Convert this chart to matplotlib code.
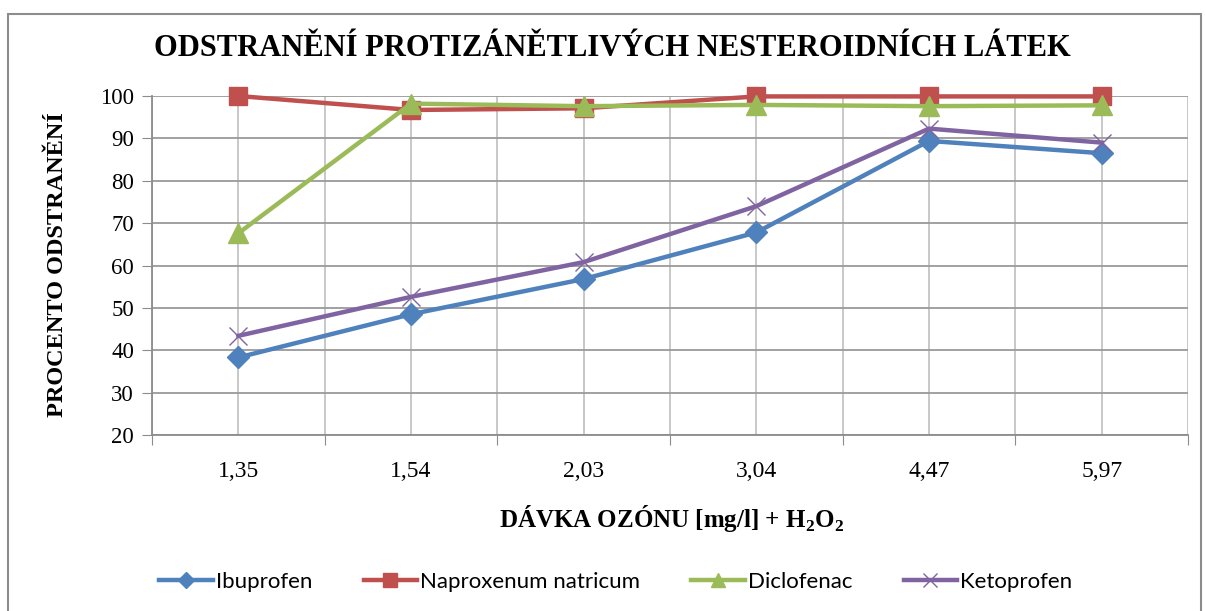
import matplotlib
matplotlib.use("Agg")
import matplotlib.pyplot as plt
from matplotlib.patches import Rectangle

categories = ["1,35", "1,54", "2,03", "3,04", "4,47", "5,97"]
ibuprofen = [38.3, 48.5, 56.8, 67.8, 89.4, 86.5]
naproxen = [100.0, 96.7, 97.1, 99.9, 99.9, 99.9]
diclofenac = [67.6, 98.2, 97.6, 97.9, 97.6, 97.8]
ketoprofen = [43.4, 52.6, 60.8, 74.0, 92.3, 89.0]
series_names = ["Ibuprofen", "Naproxenum natricum", "Diclofenac", "Ketoprofen"]
yticks = [20, 30, 40, 50, 60, 70, 80, 90, 100]

W, H = 1205, 611
fig = plt.figure(figsize=(W / 100, H / 100), dpi=100)
fig.patch.set_facecolor("white")

# outer chart border
fig.patches.append(Rectangle((8 / W, -0.05), (1201 - 8) / W, (H - 14) / H + 0.05,
                             transform=fig.transFigure, fill=False,
                             edgecolor="#8c8c8c", linewidth=1.5))

ax = fig.add_axes([152 / W, 1 - 435 / H, (1188 - 152) / W, (435 - 96) / H])
x = list(range(len(categories)))

serif = "Liberation Serif"
styles = [
    (ibuprofen, "#4F81BD", "D", 11, dict()),
    (naproxen, "#C0504D", "s", 13, dict()),
    (diclofenac, "#9BBB59", "^", 14, dict()),
    (ketoprofen, "#8064A2", "x", 13, dict(markeredgewidth=1.0)),
]
lines = []
for (vals, c, m, ms, kw), name in zip(styles, series_names):
    kw2 = dict(markeredgecolor=c, markerfacecolor=c)
    kw2.update(kw)
    ln, = ax.plot(x, vals, color=c, linewidth=3.2, marker=m, markersize=ms,
                  label=name, zorder=3, clip_on=False, **kw2)
    lines.append(ln)

ax.set_xlim(-0.5, len(categories) - 0.5)
ax.set_ylim(20, 100)
ax.set_yticks(yticks)
ax.set_yticklabels([str(v) for v in yticks], fontfamily=serif, fontsize=16.5)

ax.set_xticks([i - 0.5 for i in range(len(categories) + 1)])
ax.set_xticklabels([])
ax.set_xticks(x, minor=True)
ax.set_xticklabels(categories, minor=True, fontfamily=serif, fontsize=17)
ax.tick_params(axis="x", which="minor", length=0, pad=19)
ax.tick_params(axis="x", which="major", length=7, color="#8c8c8c", direction="out")
ax.tick_params(axis="y", length=7, color="#8c8c8c", direction="out", pad=6)

ax.grid(axis="y", which="major", color="#9a9a9a", linewidth=1.3, zorder=0)
ax.grid(axis="x", which="both", color="#c4c4c4", linewidth=1.3, zorder=0)
ax.set_axisbelow(True)
for s in ["top", "right"]:
    ax.spines[s].set_visible(False)
for s in ["left", "bottom"]:
    ax.spines[s].set_color("#8c8c8c")
    ax.spines[s].set_linewidth(1.3)

fig.text(612 / W, 1 - 48 / H, "ODSTRANĚNÍ PROTIZÁNĚTLIVÝCH NESTEROIDNÍCH LÁTEK",
         ha="center", va="center", fontfamily=serif, fontweight="bold", fontsize=22)
fig.text(58 / W, 1 - 265 / H, "PROCENTO ODSTRANĚNÍ", rotation=90,
         ha="center", va="center", fontfamily=serif, fontweight="bold", fontsize=17.5)
fig.text(672 / W, 1 - 519 / H, r"DÁVKA OZÓNU [mg/l] + H$_\mathregular{2}$O$_\mathregular{2}$",
         ha="center", va="center", fontfamily=serif, fontweight="bold", fontsize=18)

leg = fig.legend(handles=lines, loc="center", bbox_to_anchor=(616 / W, 1 - 582 / H),
                 ncol=4, frameon=False, handlelength=2.4, columnspacing=2.3,
                 handletextpad=0.15, markerscale=0.75,
                 prop={"family": ["Lato", "DejaVu Sans"], "size": 16})

fig.savefig("out.png", dpi=100, facecolor="white")
